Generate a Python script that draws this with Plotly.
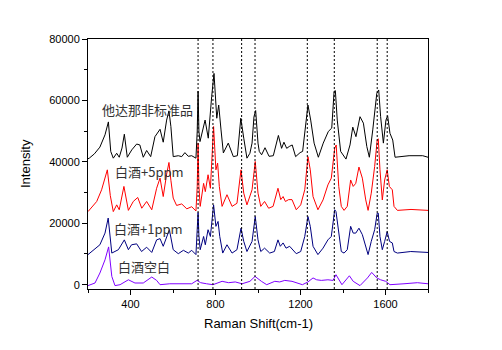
import plotly.graph_objects as go

# ---- data ----
std_x = [200, 206, 230, 256, 280, 296, 307, 319, 335, 347, 360, 371, 385, 406, 429, 444, 460, 476, 495, 515,
         539, 554, 570, 581, 590, 601, 625, 641, 656, 672, 688, 708, 714, 718, 722, 727, 751, 766, 782, 793,
         806, 815, 826, 837, 860, 884, 903, 919, 933, 948, 962, 972, 981, 989, 1000, 1006, 1017, 1033, 1052, 1072,
         1096, 1111, 1122, 1135, 1147, 1161, 1177, 1198, 1210, 1226, 1235, 1248, 1264, 1284, 1307, 1331, 1347, 1358, 1364, 1373,
         1389, 1414, 1433, 1446, 1461, 1480, 1496, 1512, 1524, 1540, 1559, 1568, 1577, 1590, 1602, 1610, 1621, 1634, 1645, 1711,
         1775, 1800]
std_y = [41000, 41200, 42600, 44800, 48800, 53000, 43400, 41200, 42800, 41500, 44500, 49000, 41500, 43900, 45800, 45500, 41500, 43700, 41700, 48200,
         50600, 46400, 53600, 56600, 51500, 41700, 42000, 41700, 43000, 41800, 42000, 41200, 50000, 63000, 50000, 46600, 53600, 47700, 61200, 68800,
         54200, 58500, 50400, 42900, 46100, 41700, 42000, 54200, 47700, 41200, 42800, 46100, 54700, 56700, 46100, 43400, 42300, 44600, 41800, 42000,
         48600, 44400, 46400, 44400, 45000, 45500, 41700, 43000, 43400, 53600, 58500, 53600, 46100, 41500, 46100, 49900, 51000, 62900, 63200, 53600,
         43400, 40900, 45500, 51300, 48200, 54700, 52600, 45000, 41500, 50400, 62300, 63400, 54700, 46100, 53600, 55000, 49300, 47100, 41500, 42000,
         42000, 41500]

p5_x = [200, 241, 264, 291, 305, 319, 335, 347, 369, 390, 413, 434, 453, 476, 500, 523, 539, 554, 570, 581,
        590, 601, 617, 641, 665, 688, 708, 714, 718, 722, 728, 744, 752, 765, 776, 791, 802, 810, 818, 831,
        854, 878, 901, 920, 933, 948, 972, 987, 1000, 1013, 1031, 1050, 1071, 1094, 1107, 1118, 1129, 1144, 1160, 1180,
        1201, 1220, 1235, 1246, 1259, 1282, 1306, 1329, 1345, 1361, 1368, 1380, 1392, 1405, 1420, 1436, 1448, 1460, 1475, 1491,
        1507, 1518, 1533, 1549, 1561, 1566, 1574, 1585, 1596, 1608, 1618, 1632, 1640, 1656, 1720, 1800]
p5_y = [23800, 27100, 30900, 37400, 29000, 23800, 26000, 24400, 32000, 24200, 27100, 28400, 24900, 27100, 24400, 31400, 34700, 28700, 36000, 39800,
        34000, 28200, 25800, 26300, 24700, 25400, 24000, 32000, 46100, 32000, 25500, 33000, 30300, 35800, 31400, 51500, 37400, 39600, 32000, 25500,
        29300, 25500, 26500, 37400, 29800, 26000, 30900, 40100, 29800, 25500, 27100, 24900, 25500, 31400, 27700, 28700, 27100, 27700, 27700, 24400,
        26000, 30900, 41700, 37400, 28700, 24400, 27600, 32500, 34700, 44400, 45500, 32000, 25500, 24200, 25500, 34100, 32000, 33000, 38300, 34700,
        27600, 24200, 29800, 38500, 47200, 47500, 37400, 27600, 34100, 37400, 32000, 30900, 25500, 24200, 24500, 24200]

p1_x = [200, 256, 280, 295, 312, 343, 371, 390, 405, 429, 452, 476, 500, 523, 539, 554, 583, 601, 625, 649,
        672, 688, 708, 714, 718, 722, 728, 744, 752, 765, 776, 791, 802, 812, 820, 834, 854, 878, 901, 920,
        933, 948, 972, 987, 1000, 1013, 1031, 1055, 1077, 1094, 1105, 1118, 1132, 1149, 1165, 1180, 1201, 1220, 1235, 1246,
        1259, 1282, 1306, 1329, 1345, 1361, 1367, 1380, 1392, 1405, 1420, 1436, 1448, 1460, 1475, 1491, 1507, 1518, 1533, 1549,
        1561, 1566, 1574, 1585, 1596, 1608, 1619, 1632, 1640, 1656, 1719, 1800]
p1_y = [9800, 13000, 16800, 21700, 10300, 11400, 14600, 11400, 13000, 13300, 10800, 12200, 10500, 14600, 15000, 12500, 17900, 11400, 10100, 11200,
        10300, 11200, 9800, 16000, 23500, 16000, 11400, 15700, 13000, 17900, 15700, 26000, 19000, 20600, 15700, 10300, 13000, 10300, 11400, 18400,
        14100, 10800, 14100, 22200, 14600, 10800, 11900, 10300, 10800, 14600, 12500, 13600, 11900, 12500, 11400, 10100, 10800, 15700, 22200, 19000,
        12500, 9800, 11900, 14600, 15700, 24400, 23800, 16800, 10800, 10300, 11400, 19000, 16800, 16800, 18400, 16300, 11900, 9800, 14100, 17900,
        23300, 23300, 15700, 11400, 14100, 17300, 14100, 13600, 10800, 10300, 10800, 10500]

blank_x = [200, 233, 256, 280, 297, 312, 327, 351, 390, 421, 460, 500, 523, 539, 585, 633, 688, 713, 730, 758,
           788, 831, 862, 893, 925, 962, 986, 1016, 1041, 1079, 1102, 1126, 1160, 1209, 1235, 1259, 1276, 1298, 1329, 1353,
           1367, 1395, 1430, 1448, 1480, 1515, 1535, 1559, 1577, 1601, 1621, 1687, 1750, 1800]
blank_y = [-300, 550, 3800, 8100, 12300, 2700, -300, 0, 1600, 550, 550, 2500, 1400, 0, 300, 300, 300, 1400, 650, 300,
           0, 1100, 650, 900, 300, 1100, 2700, 1100, 0, 1100, 900, 1400, 1100, 0, 900, 2200, 1600, 1400, 1600, 1400,
           3250, 0, 2900, 1100, -300, 2200, 4000, 2200, 1600, 1100, 0, 300, 650, 300]

marker_lines = [718, 788, 923, 986, 1232, 1359, 1561, 1608]

labels = ["他达那非标准品", "白酒+5ppm", "白酒+1ppm", "白酒空白"]
label_x = [256, 316, 313, 330]
label_y = [56900, 36700, 18200, 5850]

x_ticks = [400, 800, 1200, 1600]
y_ticks = [0, 20000, 40000, 60000, 80000]

series = [
    (std_x, std_y, "#000000"),
    (p5_x, p5_y, "#FF0000"),
    (p1_x, p1_y, "#000080"),
    (blank_x, blank_y, "#8000FF"),
]

fig = go.Figure()
for xs, ys, col in series:
    fig.add_trace(go.Scatter(x=xs, y=ys, mode="lines",
                             line=dict(color=col, width=1), showlegend=False,
                             hoverinfo="skip"))

for xv in marker_lines:
    fig.add_shape(type="line", xref="x", yref="paper", x0=xv, x1=xv, y0=0, y1=1,
                  line=dict(color="#000000", width=1, dash="2px,2px"), layer="above")

for t, lx, ly in zip(labels, label_x, label_y):
    fig.add_annotation(x=lx, y=ly, xref="x", yref="y", text=t, showarrow=False,
                       xanchor="left", yanchor="middle",
                       font=dict(family="Noto Sans CJK SC, Liberation Sans", size=13, color="#333333"))

fig.add_annotation(x=0.5, y=0, xref="paper", yref="paper", yshift=-34, text="Raman Shift(cm-1)",
                   showarrow=False, xanchor="center", yanchor="middle",
                   font=dict(family="Liberation Sans, Arial", size=13, color="#000000"))
fig.add_annotation(x=0, y=0.5, xref="paper", yref="paper", xshift=-63, text="Intensity",
                   textangle=-90, showarrow=False, xanchor="center", yanchor="middle",
                   font=dict(family="Liberation Sans, Arial", size=13, color="#000000"))

axis_common = dict(showline=True, linecolor="#000000", linewidth=1, mirror=True,
                   showgrid=False, zeroline=False, ticks="outside", tickcolor="#000000",
                   tickwidth=1, ticklen=5, tickformat="d",
                   tickfont=dict(family="Liberation Sans, Arial", size=11, color="#000000"))

fig.update_xaxes(range=[200, 1800], tickvals=x_ticks,
                 minor=dict(ticks="outside", ticklen=3, dtick=200, tick0=200, tickcolor="#000000"),
                 **axis_common)
fig.update_yaxes(range=[-1400, 80000], tickvals=y_ticks,
                 minor=dict(ticks="outside", ticklen=3, dtick=10000, tick0=0, tickcolor="#000000"),
                 **axis_common)

fig.update_layout(width=502, height=350, margin=dict(l=88, r=74, t=39, b=61),
                  paper_bgcolor="#FFFFFF", plot_bgcolor="#FFFFFF")

fig.write_html("out.html")
